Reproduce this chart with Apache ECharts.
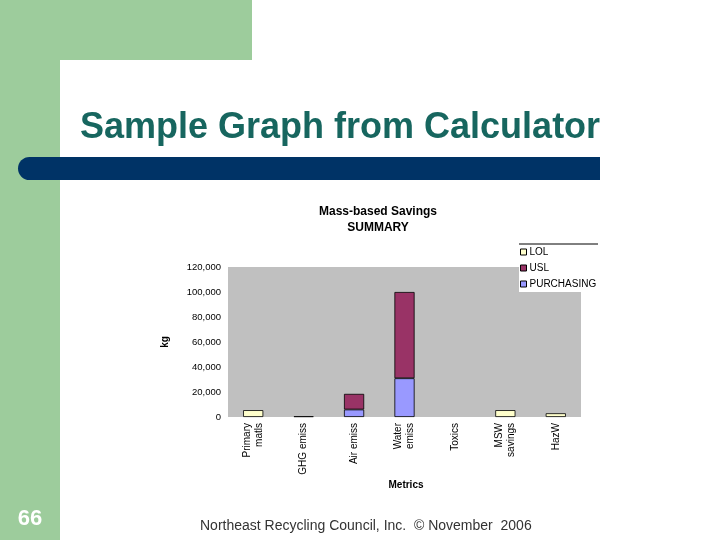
<!DOCTYPE html>
<html>
<head>
<meta charset="utf-8">
<title>Sample Graph from Calculator</title>
<script src="https://cdn.jsdelivr.net/npm/echarts@6/dist/echarts.min.js"></script>
<style>
  html, body { margin: 0; padding: 0; background: #fff; }
  #main { width: 720px; height: 540px; }
</style>
</head>
<body>
<div id="main"></div>
<script>
// chart data
var categories = ['Primary\nmatls', 'GHG emiss', 'Air emiss', 'Water\nemiss', 'Toxics', 'MSW\nsavings', 'HazW'];
var lolValues = [5500, 0, 0, 0, 0, 5500, 3000];
var uslValues = [0, 600, 12500, 69000, 0, 0, 0];
var purchasingValues = [0, 0, 6000, 31000, 0, 0, 0];
var legendNames = ['LOL', 'USL', 'PURCHASING'];

// zero segments are not drawn (no border line)
function noZero(arr) {
    return arr.map(function (v) { return v === 0 ? '-' : v; });
}

var myChart = echarts.init(document.getElementById('main'));

var font = 'Liberation Sans, Arial, sans-serif';

var option = {
    animation: false,
    textStyle: { fontFamily: font },
    graphic: [
        // slide decoration
        { type: 'rect', z: -10, shape: { x: 0, y: 0, width: 252, height: 60 }, style: { fill: '#9dcc9c' } },
        { type: 'rect', z: -10, shape: { x: 0, y: 0, width: 60, height: 540 }, style: { fill: '#9dcc9c' } },
        { type: 'rect', z: -9, shape: { x: 60, y: 60, width: 660, height: 480, r: [22, 0, 0, 0] }, style: { fill: '#fff' } },
        { type: 'rect', z: -8, shape: { x: 18, y: 157, width: 582, height: 23, r: [12, 0, 0, 12] }, style: { fill: '#003366' } },
        { type: 'text', left: 80, top: 110, z: 3,
          style: { text: 'Sample Graph from Calculator', fill: '#17665f', font: 'bold 36px ' + font } },
        { type: 'text', x: 30, y: 519, z: 3,
          style: { text: '66', fill: '#fff', font: 'bold 22px ' + font, textAlign: 'center', textVerticalAlign: 'middle' } },
        { type: 'text', x: 200, y: 526, z: 3,
          style: { text: 'Northeast Recycling Council, Inc.  \u00a9 November  2006', fill: '#333', font: '14px ' + font, textVerticalAlign: 'middle' } },
        // chart titles
        { type: 'text', x: 378, y: 212, z: 3,
          style: { text: 'Mass-based Savings', fill: '#000', font: 'bold 12px ' + font, textAlign: 'center', textVerticalAlign: 'middle' } },
        { type: 'text', x: 378, y: 228, z: 3,
          style: { text: 'SUMMARY', fill: '#000', font: 'bold 12px ' + font, textAlign: 'center', textVerticalAlign: 'middle' } },
        { type: 'text', x: 406, y: 485, z: 3,
          style: { text: 'Metrics', fill: '#000', font: 'bold 10px ' + font, textAlign: 'center', textVerticalAlign: 'middle' } },
        // legend box
        { type: 'rect', shape: { x: 519, y: 244, width: 81, height: 48 }, style: { fill: '#fff' }, z: 5 },
        { type: 'line', shape: { x1: 519, y1: 244, x2: 598, y2: 244 }, style: { stroke: '#000', lineWidth: 1 }, z: 6 }
    ],
    legend: {
        data: legendNames,
        orient: 'vertical',
        left: 520,
        top: 247,
        z: 7,
        padding: 0,
        itemWidth: 6,
        itemHeight: 6,
        itemGap: 6,
        icon: 'rect',
        itemStyle: { borderColor: '#000', borderWidth: 1 },
        textStyle: { fontSize: 10, color: '#000', padding: [0, 0, 0, -2] },
        selectedMode: false
    },
    grid: {
        left: 228,
        right: 139,
        top: 267,
        bottom: 123,
        show: true,
        backgroundColor: '#c0c0c0',
        borderWidth: 0
    },
    xAxis: {
        type: 'category',
        data: categories,
        z: 10,
        axisLine: { show: false },
        axisTick: { show: false },
        axisLabel: {
            interval: 0,
            rotate: 90,
            fontSize: 10,
            lineHeight: 12,
            color: '#000',
            margin: 6
        }
    },
    yAxis: {
        type: 'value',
        z: 10,
        name: 'kg',
        nameLocation: 'middle',
        nameGap: 58,
        nameTextStyle: { fontSize: 10, fontWeight: 'bold', color: '#000' },
        min: 0,
        max: 120000,
        interval: 20000,
        splitLine: { show: false },
        axisLine: { show: false },
        axisTick: { show: false },
        axisLabel: {
            fontSize: 9.5,
            color: '#000',
            margin: 7,
            formatter: function (v) { return v.toLocaleString('en-US'); }
        }
    },
    series: [
        {
            name: 'PURCHASING', type: 'bar', stack: 'total', barWidth: '40%', z: 4,
            itemStyle: { color: '#9999ff', borderColor: '#000', borderWidth: 0.8 },
            data: noZero(purchasingValues)
        },
        {
            name: 'USL', type: 'bar', stack: 'total', barWidth: '40%', z: 4,
            itemStyle: { color: '#993366', borderColor: '#000', borderWidth: 0.8 },
            data: noZero(uslValues)
        },
        {
            name: 'LOL', type: 'bar', stack: 'total', barWidth: '40%', z: 4,
            itemStyle: { color: '#ffffcc', borderColor: '#000', borderWidth: 0.8 },
            data: noZero(lolValues)
        }
    ]
};

myChart.setOption(option);
</script>
</body>
</html>
